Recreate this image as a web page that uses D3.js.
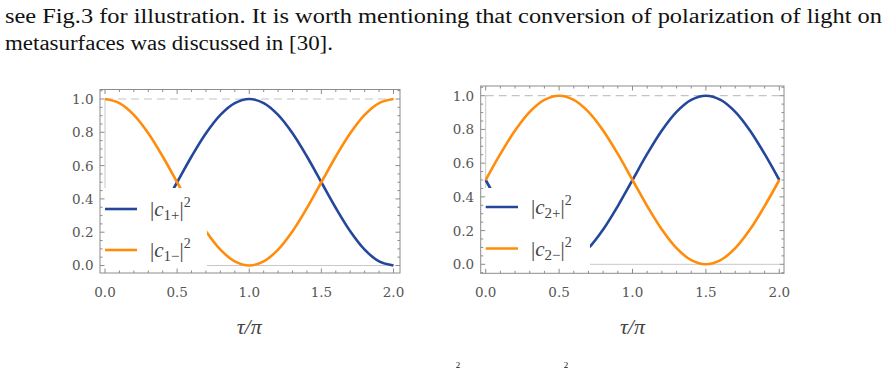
<!DOCTYPE html>
<html>
<head>
<meta charset="utf-8">
<script src="https://cdn.jsdelivr.net/npm/d3@7"></script>
<style>
    body { margin: 0; background: #fff; }
    svg { display: block; }
</style>
</head>
<body>
<div id="chart"></div>
<script>
// tau / pi sample points
const tau = [0, 0.1, 0.2, 0.3, 0.4, 0.5, 0.6, 0.7, 0.8, 0.9, 1.0,
    1.1, 1.2, 1.3, 1.4, 1.5, 1.6, 1.7, 1.8, 1.9, 2.0];

// left panel
const c1Plus = [0, 0.0245, 0.0955, 0.206, 0.3455, 0.5, 0.6545, 0.794, 0.9045, 0.9755, 1,
    0.9755, 0.9045, 0.794, 0.6545, 0.5, 0.3455, 0.206, 0.0955, 0.0245, 0];
const c1Minus = [1, 0.9755, 0.9045, 0.794, 0.6545, 0.5, 0.3455, 0.206, 0.0955, 0.0245, 0,
    0.0245, 0.0955, 0.206, 0.3455, 0.5, 0.6545, 0.794, 0.9045, 0.9755, 1];

// right panel
const c2Plus = [0.5, 0.3455, 0.206, 0.0955, 0.0245, 0, 0.0245, 0.0955, 0.206, 0.3455, 0.5,
    0.6545, 0.794, 0.9045, 0.9755, 1, 0.9755, 0.9045, 0.794, 0.6545, 0.5];
const c2Minus = [0.5, 0.6545, 0.794, 0.9045, 0.9755, 1, 0.9755, 0.9045, 0.794, 0.6545, 0.5,
    0.3455, 0.206, 0.0955, 0.0245, 0, 0.0245, 0.0955, 0.206, 0.3455, 0.5];

const xTicks = [0, 0.5, 1.0, 1.5, 2.0];
const yTicks = [0, 0.2, 0.4, 0.6, 0.8, 1.0];
const textLines = [
    'see Fig.3 for illustration. It is worth mentioning that conversion of polarization of light on',
    'metasurfaces was discussed in [30].'
];

const blue = '#24479b';
const orange = '#ff8c0a';
const frameColor = '#8c8c8c';
const serif = "'Liberation Serif', 'Times New Roman', Times, serif";

const width = 887;
const height = 369;

const svg = d3.select('#chart')
    .append('svg')
    .attr('width', width)
    .attr('height', height);

// paper text above the figure
svg.append('text')
    .attr('x', 5).attr('y', 23)
    .attr('textLength', 877).attr('lengthAdjust', 'spacingAndGlyphs')
    .style('font-family', serif).style('font-size', '20px').attr('fill', '#111')
    .text(textLines[0]);
svg.append('text')
    .attr('x', 5).attr('y', 50)
    .attr('textLength', 328).attr('lengthAdjust', 'spacingAndGlyphs')
    .style('font-family', serif).style('font-size', '20px').attr('fill', '#111')
    .text(textLines[1]);

// superscripts of the equation below the figure
svg.append('g').selectAll('text')
    .data([458, 566])
    .enter().append('text')
    .attr('x', d => d).attr('y', 368)
    .attr('text-anchor', 'middle')
    .style('font-family', serif).style('font-size', '9px').attr('fill', '#111')
    .text('2');

const panels = [
    {
        xRange: [105, 393.5], yRange: [265.5, 99],
        frame: {left: 100, right: 400, top: 89.5, bottom: 273},
        legend: {right: 207, top: 188, sampleX: [105, 137], textX: 150, rows: [209, 250]},
        series: [c1Plus, c1Minus], sub: '1'
    },
    {
        xRange: [485.7, 779.3], yRange: [264.3, 95.7],
        frame: {left: 480.7, right: 784, top: 86, bottom: 273.3},
        legend: {right: 590, top: 188, sampleX: [485.7, 518], textX: 531, rows: [207, 248.5]},
        series: [c2Plus, c2Minus], sub: '2'
    }
];

panels.forEach(drawPanel);

function drawPanel(p) {
    const x = d3.scaleLinear().domain([0, 2]).range(p.xRange);
    const y = d3.scaleLinear().domain([0, 1]).range(p.yRange);
    const f = p.frame;
    const g = svg.append('g');

    // dashed line at 1
    g.append('line')
        .attr('x1', x(0)).attr('x2', x(2))
        .attr('y1', y(1)).attr('y2', y(1))
        .attr('stroke', '#c4c4c4').attr('stroke-width', 1.2)
        .attr('stroke-dasharray', '8,5');

    // axes through the origin
    g.append('line')
        .attr('x1', x(0)).attr('x2', x(0))
        .attr('y1', y(1)).attr('y2', y(0))
        .attr('stroke', '#c8c8c8').attr('stroke-width', 1);
    g.append('line')
        .attr('x1', x(0)).attr('x2', x(2))
        .attr('y1', y(0)).attr('y2', y(0))
        .attr('stroke', '#c8c8c8').attr('stroke-width', 1);

    const line = d3.line()
        .x((d, i) => x(tau[i]))
        .y(d => y(d))
        .curve(d3.curveCatmullRom.alpha(0.5));

    [blue, orange].forEach((color, k) => {
        g.append('path')
            .datum(p.series[k])
            .attr('fill', 'none')
            .attr('stroke', color)
            .attr('stroke-width', 2.6)
            .attr('stroke-linejoin', 'round')
            .attr('d', line);
    });

    // legend background covers the curves
    g.append('rect')
        .attr('x', f.left + 0.5).attr('y', p.legend.top)
        .attr('width', p.legend.right - f.left - 0.5)
        .attr('height', f.bottom - p.legend.top - 0.5)
        .attr('fill', '#fff');

    // frame
    g.append('rect')
        .attr('x', f.left).attr('y', f.top)
        .attr('width', f.right - f.left).attr('height', f.bottom - f.top)
        .attr('fill', 'none').attr('stroke', frameColor).attr('stroke-width', 1);

    // ticks on all sides
    const xMin = x.invert(f.left), xMax = x.invert(f.right);
    const yMin = y.invert(f.bottom), yMax = y.invert(f.top);
    const xMinor = d3.range(Math.ceil(xMin * 10), Math.floor(xMax * 10) + 1).map(d => d / 10);
    const yMinor = d3.range(Math.ceil(yMin * 20), Math.floor(yMax * 20) + 1).map(d => d / 20);
    const isMajorX = v => Math.abs(v * 2 - Math.round(v * 2)) < 1e-6;
    const isMajorY = v => Math.abs(v * 5 - Math.round(v * 5)) < 1e-6;

    xMinor.forEach(v => {
        const len = isMajorX(v) ? 4.5 : 2.5;
        g.append('line').attr('x1', x(v)).attr('x2', x(v))
            .attr('y1', f.bottom).attr('y2', f.bottom - len)
            .attr('stroke', frameColor);
        g.append('line').attr('x1', x(v)).attr('x2', x(v))
            .attr('y1', f.top).attr('y2', f.top + len)
            .attr('stroke', frameColor);
    });
    yMinor.forEach(v => {
        const len = isMajorY(v) ? 4.5 : 2.5;
        g.append('line').attr('x1', f.left).attr('x2', f.left + len)
            .attr('y1', y(v)).attr('y2', y(v))
            .attr('stroke', frameColor);
        g.append('line').attr('x1', f.right).attr('x2', f.right - len)
            .attr('y1', y(v)).attr('y2', y(v))
            .attr('stroke', frameColor);
    });

    // tick labels
    g.selectAll('.xlab')
        .data(xTicks)
        .enter().append('text')
        .attr('class', 'xlab')
        .attr('x', d => x(d)).attr('y', f.bottom + 24)
        .attr('text-anchor', 'middle')
        .style('font-family', 'DejaVu Serif').style('font-size', '13.5px')
        .attr('fill', '#555')
        .text(d3.format('.1f'));

    g.selectAll('.ylab')
        .data(yTicks)
        .enter().append('text')
        .attr('class', 'ylab')
        .attr('x', f.left - 6.5).attr('y', d => y(d))
        .attr('dy', '0.37em')
        .attr('text-anchor', 'end')
        .style('font-family', 'DejaVu Serif').style('font-size', '13.5px')
        .attr('fill', '#555')
        .text(d3.format('.1f'));

    // axis label
    g.append('text')
        .attr('x', (p.xRange[0] + p.xRange[1]) / 2).attr('y', 334)
        .attr('text-anchor', 'middle')
        .style('font-family', serif).style('font-size', '22px')
        .style('font-style', 'italic')
        .attr('fill', '#444')
        .text('τ/π');

    // legend entries
    [['+', blue], ['−', orange]].forEach(([sign, color], k) => {
        const ly = p.legend.rows[k];
        g.append('line')
            .attr('x1', p.legend.sampleX[0]).attr('x2', p.legend.sampleX[1])
            .attr('y1', ly).attr('y2', ly)
            .attr('stroke', color).attr('stroke-width', 2.6);

        const t = g.append('text')
            .attr('x', p.legend.textX).attr('y', ly + 7)
            .style('font-family', serif).style('font-size', '21px')
            .attr('fill', '#444');
        t.append('tspan').text('|');
        t.append('tspan').style('font-style', 'italic').text('c');
        t.append('tspan').attr('dy', 4).style('font-size', '15px').text(p.sub + sign);
        t.append('tspan').attr('dy', -4).text('|');
        t.append('tspan').attr('dy', -9).style('font-size', '14px').text('2');
    });
}
</script>
</body>
</html>
